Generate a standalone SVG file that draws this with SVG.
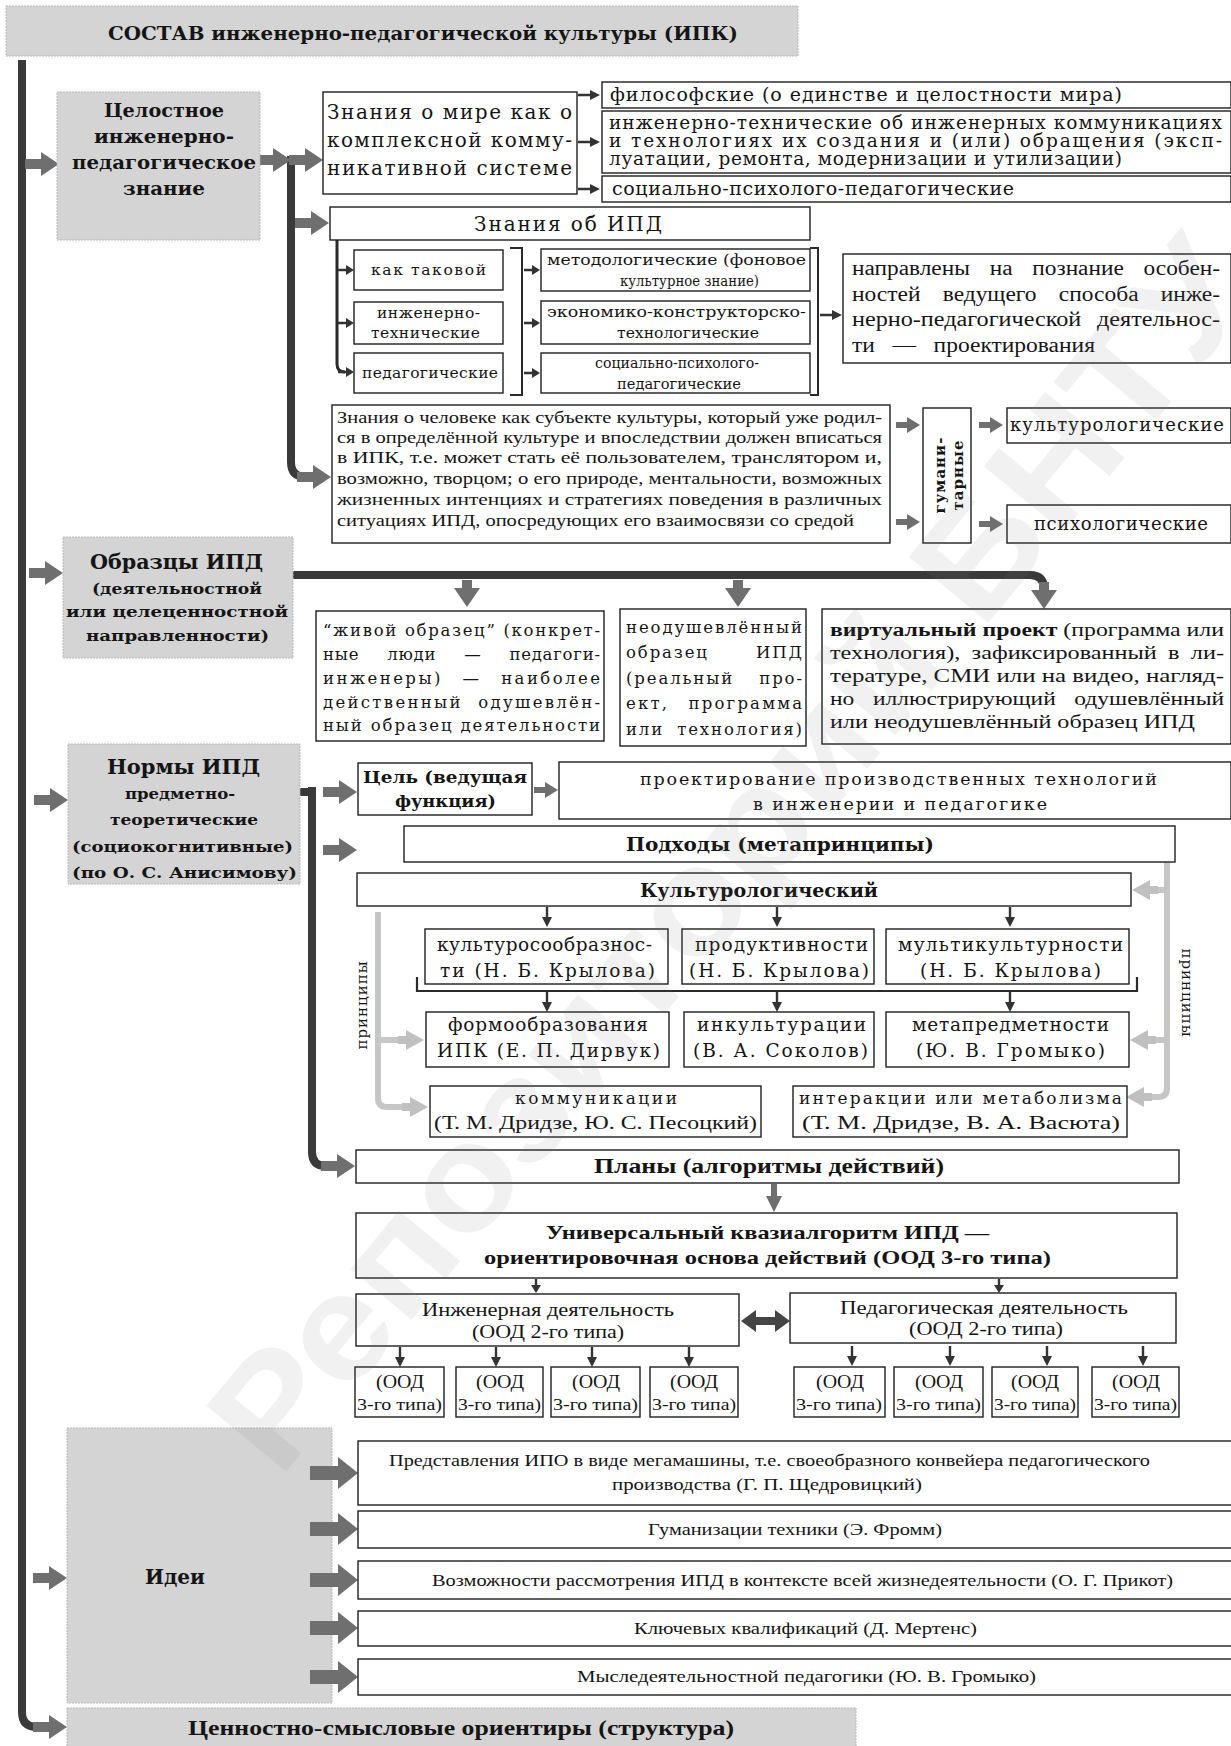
<svg xmlns="http://www.w3.org/2000/svg" width="1231" height="1746" viewBox="0 0 1231 1746">
<style>
.bx{fill:#fff;stroke:#1e1e1e;stroke-width:1.4}
.gb{fill:#d4d4d4;stroke:#b8b8b8;stroke-width:1;stroke-dasharray:2 1}
.b{font-family:"DejaVu Serif",serif;font-weight:bold;fill:#151515}
.r{font-family:"DejaVu Serif",serif;fill:#151515}
.t{font-family:"Liberation Serif",serif;fill:#151515}
.tb{font-family:"Liberation Serif",serif;font-weight:bold;fill:#151515}
.bar{fill:none;stroke:#3a3a3a;stroke-width:8}
.ln{fill:none;stroke:#2a2a2a}
.gl{fill:none;stroke:#c6c6c6;stroke-width:6}
.ga{fill:#6f6f6f}
.da{fill:#333}
.la{fill:#c0c0c0}
</style>
<defs>
<path id="ga" d="M0,-5H16V-12L34,0L16,12V5H0Z"/>
<path id="gab" d="M0,-7H28V-16L48,0L28,16V7H0Z"/>
<path id="gam" d="M0,-3H11V-8L24,0L11,8V3H0Z"/>
<path id="gad" d="M-5,0V8H-13L0,27L13,8H5V0Z"/>
<path id="gmd" d="M-3,0H3V12H8L0,28L-8,12H-3Z"/>
<path id="sa" d="M0,-1.2H12V-5L22,0L12,5V1.2H0Z"/>
<path id="sa16" d="M0,-1.2H8V-5L16,0L8,5V1.2H0Z"/>
<path id="sd" d="M-1.2,0H1.2V10H5L0,20L-5,10H-1.2Z"/>
<path id="sd14" d="M-1.2,0H1.2V6H5L0,14L-5,6H-1.2Z"/>
<path id="la" d="M0,-4H8V-10L26,0L8,10V4H0Z"/>
</defs>

<g id="connectors">
<path class="bar" d="M22,60V1712Q22,1727 37,1727H40"/>
<use class="ga" href="#ga" x="33" y="1727"/>
<use class="ga" href="#ga" x="25" y="164"/>
<use class="ga" href="#ga" x="29" y="573"/>
<use class="ga" href="#ga" x="34" y="800"/>
<use class="ga" href="#ga" x="33" y="1578"/>
<path class="bar" d="M291,156V462Q291,477 306,477"/>
<use class="ga" href="#ga" x="257" y="160"/>
<use class="ga" href="#ga" x="289" y="160"/>
<use class="ga" href="#ga" x="295" y="223"/>
<use class="ga" href="#ga" x="297" y="477"/>
<use class="da" href="#sa" x="578" y="95"/>
<use class="da" href="#sa" x="578" y="142"/>
<use class="da" href="#sa" x="578" y="189"/>
<path class="ln" stroke-width="3" d="M337,240V364Q337,372 345,372"/>
<use class="da" href="#sa16" x="338" y="270"/>
<use class="da" href="#sa16" x="338" y="323"/>
<use class="da" href="#sa16" x="338" y="372"/>
<path class="ln" stroke-width="2" d="M510,248H522V395H510"/>
<use class="da" href="#sa16" x="524" y="270"/>
<use class="da" href="#sa16" x="524" y="323"/>
<use class="da" href="#sa16" x="524" y="373"/>
<path class="ln" stroke-width="2" d="M810,248H818V395H810"/>
<use class="da" href="#sa" x="820" y="315"/>
<use class="ga" href="#gam" x="896" y="425"/>
<use class="ga" href="#gam" x="896" y="522"/>
<use class="ga" href="#gam" x="979" y="425"/>
<use class="ga" href="#gam" x="979" y="524"/>
<path class="bar" stroke-width="9" d="M293,575H1030Q1044,575 1044,589"/>
<use class="ga" href="#gad" x="467" y="580"/>
<use class="ga" href="#gad" x="738" y="580"/>
<use class="ga" href="#gad" x="1044" y="582"/>
<path class="bar" stroke="#555" d="M300,792H316"/>
<path class="bar" d="M312,787V1152Q312,1166 326,1166"/>
<use class="ga" href="#ga" x="323" y="792"/>
<use class="ga" href="#ga" x="323" y="850"/>
<use class="ga" href="#ga" x="321" y="1166"/>
<use class="ga" href="#gam" x="534" y="790"/>
<use class="da" href="#sd" x="547" y="907"/>
<use class="da" href="#sd" x="777" y="907"/>
<use class="da" href="#sd" x="1010" y="907"/>
<path class="ln" stroke-width="2.2" d="M417,977V991H1137V977"/>
<use class="da" href="#sd" x="547" y="992"/>
<use class="da" href="#sd" x="777" y="992"/>
<use class="da" href="#sd" x="1010" y="992"/>
<path class="gl" d="M378,912V1098Q378,1107 387,1107H402"/>
<use class="la" href="#la" x="402" y="1107"/>
<path class="gl" d="M378,1040H398"/>
<use class="la" href="#la" x="398" y="1040"/>
<path class="gl" d="M1167,862V1088Q1167,1097 1158,1097H1152"/>
<use class="la" href="#la" transform="translate(1152,1097) scale(-1,1)"/>
<path class="gl" d="M1167,890H1158"/>
<use class="la" href="#la" transform="translate(1158,890) scale(-1,1)"/>
<path class="gl" d="M1167,1040H1156"/>
<use class="la" href="#la" transform="translate(1156,1040) scale(-1,1)"/>
<use class="ga" href="#gmd" x="774" y="1184"/>
<use class="da" href="#sd14" x="536" y="1279"/>
<use class="da" href="#sd14" x="999" y="1279"/>
<use class="da" href="#sd" x="400" y="1347"/>
<use class="da" href="#sd" x="496" y="1347"/>
<use class="da" href="#sd" x="592" y="1347"/>
<use class="da" href="#sd" x="689" y="1347"/>
<use class="da" href="#sd" x="852" y="1346"/>
<use class="da" href="#sd" x="950" y="1346"/>
<use class="da" href="#sd" x="1047" y="1346"/>
<use class="da" href="#sd" x="1143" y="1346"/>
<path fill="#444" d="M741,1321L756,1310V1317H775V1310L790,1321L775,1332V1325H756V1332Z"/>
</g>

<g id="n-title"><rect class="gb" x="6" y="6" width="792" height="50"/>
<text class="b" x="108" y="40" font-size="19" textLength="630" lengthAdjust="spacingAndGlyphs">СОСТАВ инженерно-педагогической культуры (ИПК)</text></g>

<g id="n-celostnoe"><rect class="gb" x="57" y="92" width="203" height="148"/>
<text class="b" font-size="18" x="104" y="117" textLength="120" lengthAdjust="spacingAndGlyphs">Целостное</text>
<text class="b" font-size="18" x="94" y="143" textLength="140" lengthAdjust="spacingAndGlyphs">инженерно-</text>
<text class="b" font-size="18" x="72" y="169" textLength="184" lengthAdjust="spacingAndGlyphs">педагогическое</text>
<text class="b" font-size="18" x="123" y="195" textLength="82" lengthAdjust="spacingAndGlyphs">знание</text></g>

<g id="n-mir"><rect class="bx" x="323" y="92" width="254" height="102"/>
<text class="r" font-size="20" x="327" y="119" textLength="245" lengthAdjust="spacing">Знания о мире как о</text>
<text class="r" font-size="20" x="327" y="147" textLength="245" lengthAdjust="spacing">комплексной комму-</text>
<text class="r" font-size="20" x="327" y="175" textLength="245" lengthAdjust="spacing">никативной системе</text></g>

<g id="n-filos"><rect class="bx" x="602" y="82" width="629" height="26"/>
<text class="r" font-size="19" x="610" y="101" textLength="512" lengthAdjust="spacing">философские (о единстве и целостности мира)</text></g>
<g id="n-inzhtech"><rect class="bx" x="602" y="111" width="629" height="62"/>
<text class="r" font-size="18.5" x="609" y="129" textLength="613" lengthAdjust="spacing">инженерно-технические об инженерных коммуникациях</text>
<text class="r" font-size="18.5" x="609" y="147" textLength="613" lengthAdjust="spacing">и технологиях их создания и (или) обращения (эксп-</text>
<text class="r" font-size="18.5" x="609" y="165" textLength="513" lengthAdjust="spacing">луатации, ремонта, модернизации и утилизации)</text></g>
<g id="n-socps1"><rect class="bx" x="602" y="176" width="629" height="26"/>
<text class="r" font-size="19" x="612" y="195" textLength="402" lengthAdjust="spacing">социально-психолого-педагогические</text></g>

<g id="n-ipd"><rect class="bx" x="330" y="207" width="480" height="33"/>
<text class="r" font-size="20" x="474" y="231" textLength="188" lengthAdjust="spacing">Знания об ИПД</text></g>

<g id="n-kaktak"><rect class="bx" x="354" y="250" width="149" height="40"/>
<text class="r" font-size="15.5" x="371" y="275" textLength="115" lengthAdjust="spacing">как таковой</text></g>
<g id="n-inzh2"><rect class="bx" x="354" y="302" width="149" height="42"/>
<text class="r" font-size="15.5" x="377" y="318" textLength="103" lengthAdjust="spacing">инженерно-</text>
<text class="r" font-size="15.5" x="371" y="338" textLength="109" lengthAdjust="spacing">технические</text></g>
<g id="n-ped2"><rect class="bx" x="354" y="353" width="149" height="40"/>
<text class="r" font-size="15.5" x="362" y="378" textLength="136" lengthAdjust="spacing">педагогические</text></g>

<g id="n-metod"><rect class="bx" x="541" y="249" width="269" height="42"/>
<text class="r" font-size="14.5" x="547" y="265" textLength="259" lengthAdjust="spacingAndGlyphs">методологические (фоновое</text>
<text class="r" font-size="14.5" x="620" y="286" textLength="139" lengthAdjust="spacingAndGlyphs">культурное знание)</text></g>
<g id="n-ekon"><rect class="bx" x="541" y="301" width="269" height="43"/>
<text class="r" font-size="14.5" x="547" y="317" textLength="259" lengthAdjust="spacingAndGlyphs">экономико-конструкторско-</text>
<text class="r" font-size="14.5" x="617" y="338" textLength="142" lengthAdjust="spacingAndGlyphs">технологические</text></g>
<g id="n-socps2"><rect class="bx" x="541" y="353" width="269" height="40"/>
<text class="r" font-size="14.5" x="595" y="368" textLength="164" lengthAdjust="spacingAndGlyphs">социально-психолого-</text>
<text class="r" font-size="14.5" x="617" y="389" textLength="124" lengthAdjust="spacingAndGlyphs">педагогические</text></g>

<g id="n-napr"><rect class="bx" x="843" y="254" width="388" height="109"/>
<text class="t" font-size="20" x="852" y="275" word-spacing="12" textLength="368" lengthAdjust="spacingAndGlyphs">направлены на познание особен-</text>
<text class="t" font-size="20" x="852" y="301" word-spacing="14" textLength="368" lengthAdjust="spacingAndGlyphs">ностей ведущего способа инже-</text>
<text class="t" font-size="20" x="852" y="326" word-spacing="8" textLength="368" lengthAdjust="spacingAndGlyphs">нерно-педагогической деятельнос-</text>
<text class="t" font-size="20" x="852" y="352" word-spacing="10" textLength="243" lengthAdjust="spacingAndGlyphs">ти — проектирования</text></g>

<g id="n-chel"><rect class="bx" x="332" y="405" width="558" height="138"/>
<text class="t" font-size="17" x="337" y="423" textLength="545" lengthAdjust="spacingAndGlyphs">Знания о человеке как субъекте культуры, который уже родил-</text>
<text class="t" font-size="17" x="337" y="443" textLength="545" lengthAdjust="spacingAndGlyphs">ся в определённой культуре и впоследствии должен вписаться</text>
<text class="t" font-size="17" x="337" y="463" textLength="545" lengthAdjust="spacingAndGlyphs">в ИПК, т.е. может стать её пользователем, транслятором и,</text>
<text class="t" font-size="17" x="337" y="484" textLength="545" lengthAdjust="spacingAndGlyphs">возможно, творцом; о его природе, ментальности, возможных</text>
<text class="t" font-size="17" x="337" y="505" textLength="545" lengthAdjust="spacingAndGlyphs">жизненных интенциях и стратегиях поведения в различных</text>
<text class="t" font-size="17" x="337" y="526" textLength="517" lengthAdjust="spacingAndGlyphs">ситуациях ИПД, опосредующих его взаимосвязи со средой</text></g>

<g id="n-guman"><rect class="bx" x="923" y="408" width="48" height="135"/>
<text class="b" font-size="15" text-anchor="middle" transform="translate(945,475) rotate(-90)" letter-spacing="1">гумани-</text>
<text class="b" font-size="15" text-anchor="middle" transform="translate(963,475) rotate(-90)" letter-spacing="1">тарные</text></g>
<g id="n-kultur"><rect class="bx" x="1007" y="408" width="224" height="35"/>
<text class="r" font-size="18" x="1010" y="431" textLength="214" lengthAdjust="spacing">культурологические</text></g>
<g id="n-psih"><rect class="bx" x="1007" y="505" width="224" height="38"/>
<text class="r" font-size="18" x="1034" y="530" textLength="174" lengthAdjust="spacing">психологические</text></g>

<g id="n-obrazcy"><rect class="gb" x="63" y="537" width="230" height="121"/>
<text class="b" font-size="20" x="90" y="569" textLength="173" lengthAdjust="spacingAndGlyphs">Образцы ИПД</text>
<text class="b" font-size="15" x="92" y="594" textLength="170" lengthAdjust="spacingAndGlyphs">(деятельностной</text>
<text class="b" font-size="15" x="66" y="617" textLength="222" lengthAdjust="spacingAndGlyphs">или целеценностной</text>
<text class="b" font-size="15" x="86" y="641" textLength="183" lengthAdjust="spacingAndGlyphs">направленности)</text></g>

<g id="n-zhivoy"><rect class="bx" x="316" y="611" width="288" height="130"/>
<text class="r" font-size="16.5" x="323" y="636" textLength="277" lengthAdjust="spacing">“живой образец” (конкрет-</text>
<text class="r" font-size="16.5" x="323" y="660" textLength="277" lengthAdjust="spacing" word-spacing="22">ные люди — педагоги-</text>
<text class="r" font-size="16.5" x="323" y="684" textLength="277" lengthAdjust="spacing" word-spacing="12">инженеры) — наиболее</text>
<text class="r" font-size="16.5" x="323" y="708" textLength="277" lengthAdjust="spacing" word-spacing="8">действенный одушевлён-</text>
<text class="r" font-size="16.5" x="323" y="731" textLength="277" lengthAdjust="spacing">ный образец деятельности</text></g>

<g id="n-neodush"><rect class="bx" x="620" y="609" width="186" height="137"/>
<text class="r" font-size="16.5" x="626" y="633" textLength="176" lengthAdjust="spacing">неодушевлённый</text>
<text class="r" font-size="16.5" x="626" y="658" textLength="176" lengthAdjust="spacing" word-spacing="40">образец ИПД</text>
<text class="r" font-size="16.5" x="626" y="684" textLength="176" lengthAdjust="spacing" word-spacing="18">(реальный про-</text>
<text class="r" font-size="16.5" x="626" y="709" textLength="176" lengthAdjust="spacing" word-spacing="12">ект, программа</text>
<text class="r" font-size="16.5" x="626" y="735" textLength="176" lengthAdjust="spacing" word-spacing="6">или технология)</text></g>

<g id="n-virt"><rect class="bx" x="822" y="609" width="409" height="135"/>
<text class="t" font-size="18.5" x="830" y="636" textLength="394" lengthAdjust="spacingAndGlyphs"><tspan font-weight="bold">виртуальный проект</tspan> (программа или</text>
<text class="t" font-size="18.5" x="830" y="659" textLength="394" lengthAdjust="spacingAndGlyphs" word-spacing="4">технология), зафиксированный в ли-</text>
<text class="t" font-size="18.5" x="830" y="682" textLength="394" lengthAdjust="spacingAndGlyphs">тературе, СМИ или на видео, нагляд-</text>
<text class="t" font-size="18.5" x="830" y="705" textLength="394" lengthAdjust="spacingAndGlyphs" word-spacing="10">но иллюстрирующий одушевлённый</text>
<text class="t" font-size="18.5" x="830" y="728" textLength="365" lengthAdjust="spacingAndGlyphs">или неодушевлённый образец ИПД</text></g>

<g id="n-normy"><rect class="gb" x="68" y="744" width="232" height="140"/>
<text class="b" font-size="20" x="107" y="774" textLength="153" lengthAdjust="spacingAndGlyphs">Нормы ИПД</text>
<text class="b" font-size="15" x="125" y="799" textLength="110" lengthAdjust="spacingAndGlyphs">предметно-</text>
<text class="b" font-size="15" x="110" y="825" textLength="148" lengthAdjust="spacingAndGlyphs">теоретические</text>
<text class="b" font-size="15" x="72" y="852" textLength="221" lengthAdjust="spacingAndGlyphs">(социокогнитивные)</text>
<text class="b" font-size="15" x="72" y="878" textLength="225" lengthAdjust="spacingAndGlyphs">(по О. С. Анисимову)</text></g>

<g id="n-cel"><rect class="bx" x="358" y="763" width="174" height="52"/>
<text class="b" font-size="17" x="363" y="783" textLength="164" lengthAdjust="spacingAndGlyphs">Цель (ведущая</text>
<text class="b" font-size="17" x="395" y="807" textLength="101" lengthAdjust="spacingAndGlyphs">функция)</text></g>
<g id="n-proekt"><rect class="bx" x="559" y="762" width="672" height="57"/>
<text class="r" font-size="17.5" x="640" y="785" textLength="517" lengthAdjust="spacing">проектирование производственных технологий</text>
<text class="r" font-size="17.5" x="753" y="810" textLength="294" lengthAdjust="spacing">в инженерии и педагогике</text></g>
<g id="n-podhody"><rect class="bx" x="404" y="826" width="771" height="36"/>
<text class="b" font-size="19" x="626" y="851" textLength="308" lengthAdjust="spacingAndGlyphs">Подходы (метапринципы)</text></g>
<g id="n-kulturolog"><rect class="bx" x="357" y="873" width="774" height="33"/>
<text class="b" font-size="19" x="640" y="897" textLength="238" lengthAdjust="spacingAndGlyphs">Культурологический</text></g>

<g id="n-p1"><rect class="bx" x="425" y="929" width="243" height="55"/>
<text class="r" font-size="18.5" x="437" y="951" textLength="215" lengthAdjust="spacing">культуросообразнос-</text>
<text class="r" font-size="18.5" x="440" y="977" textLength="215" lengthAdjust="spacing">ти (Н. Б. Крылова)</text></g>
<g id="n-p2"><rect class="bx" x="682" y="929" width="192" height="55"/>
<text class="r" font-size="18.5" x="695" y="951" textLength="173" lengthAdjust="spacing">продуктивности</text>
<text class="r" font-size="18.5" x="689" y="977" textLength="180" lengthAdjust="spacing">(Н. Б. Крылова)</text></g>
<g id="n-p3"><rect class="bx" x="886" y="929" width="243" height="55"/>
<text class="r" font-size="18.5" x="898" y="951" textLength="225" lengthAdjust="spacing">мультикультурности</text>
<text class="r" font-size="18.5" x="920" y="977" textLength="181" lengthAdjust="spacing">(Н. Б. Крылова)</text></g>
<g id="n-p4"><rect class="bx" x="426" y="1012" width="243" height="55"/>
<text class="r" font-size="18.5" x="448" y="1031" textLength="200" lengthAdjust="spacing">формообразования</text>
<text class="r" font-size="18.5" x="437" y="1057" textLength="223" lengthAdjust="spacing">ИПК (Е. П. Дирвук)</text></g>
<g id="n-p5"><rect class="bx" x="684" y="1012" width="190" height="55"/>
<text class="r" font-size="18.5" x="697" y="1031" textLength="169" lengthAdjust="spacing">инкультурации</text>
<text class="r" font-size="18.5" x="693" y="1057" textLength="175" lengthAdjust="spacing">(В. А. Соколов)</text></g>
<g id="n-p6"><rect class="bx" x="886" y="1012" width="243" height="55"/>
<text class="r" font-size="18.5" x="912" y="1031" textLength="197" lengthAdjust="spacing">метапредметности</text>
<text class="r" font-size="18.5" x="916" y="1057" textLength="189" lengthAdjust="spacing">(Ю. В. Громыко)</text></g>
<g id="n-p7"><rect class="bx" x="430" y="1086" width="331" height="51"/>
<text class="r" font-size="17" x="515" y="1104" textLength="162" lengthAdjust="spacing">коммуникации</text>
<text class="t" font-size="19" x="434" y="1129" textLength="323" lengthAdjust="spacingAndGlyphs">(Т. М. Дридзе, Ю. С. Песоцкий)</text></g>
<g id="n-p8"><rect class="bx" x="793" y="1086" width="334" height="51"/>
<text class="r" font-size="17" x="799" y="1104" textLength="323" lengthAdjust="spacing">интеракции или метаболизма</text>
<text class="t" font-size="19" x="802" y="1129" textLength="318" lengthAdjust="spacingAndGlyphs">(Т. М. Дридзе, В. А. Васюта)</text></g>

<g id="n-princ-l"><text class="r" font-size="15" text-anchor="middle" transform="translate(367,1005) rotate(-90)" letter-spacing="1">принципы</text></g>
<g id="n-princ-r"><text class="r" font-size="15" text-anchor="middle" transform="translate(1182,993) rotate(90)" letter-spacing="1">принципы</text></g>

<g id="n-plany"><rect class="bx" x="356" y="1150" width="823" height="33"/>
<text class="tb" font-size="21" x="594" y="1173" textLength="350" lengthAdjust="spacingAndGlyphs">Планы (алгоритмы действий)</text></g>
<g id="n-univ"><rect class="bx" x="356" y="1213" width="821" height="65"/>
<text class="tb" font-size="19" x="546" y="1239" textLength="443" lengthAdjust="spacingAndGlyphs">Универсальный квазиалгоритм ИПД —</text>
<text class="tb" font-size="19" x="484" y="1264" textLength="567" lengthAdjust="spacingAndGlyphs">ориентировочная основа действий (ООД 3-го типа)</text></g>
<g id="n-inzhd"><rect class="bx" x="356" y="1294" width="383" height="52"/>
<text class="t" font-size="18" x="422" y="1316" textLength="252" lengthAdjust="spacingAndGlyphs">Инженерная деятельность</text>
<text class="t" font-size="18" x="472" y="1338" textLength="152" lengthAdjust="spacingAndGlyphs">(ООД 2-го типа)</text></g>
<g id="n-pedd"><rect class="bx" x="790" y="1293" width="386" height="50"/>
<text class="t" font-size="18" x="840" y="1314" textLength="288" lengthAdjust="spacingAndGlyphs">Педагогическая деятельность</text>
<text class="t" font-size="18" x="909" y="1335" textLength="154" lengthAdjust="spacingAndGlyphs">(ООД 2-го типа)</text></g>

<g id="n-ood1"><rect class="bx" x="355" y="1367" width="89" height="50"/><text class="t" font-size="18.5" x="376" y="1388" textLength="48" lengthAdjust="spacingAndGlyphs">(ООД</text><text class="t" font-size="16" x="357" y="1410" textLength="85" lengthAdjust="spacingAndGlyphs">3-го типа)</text></g>
<g id="n-ood2"><rect class="bx" x="456" y="1367" width="87" height="50"/><text class="t" font-size="18.5" x="476" y="1388" textLength="48" lengthAdjust="spacingAndGlyphs">(ООД</text><text class="t" font-size="16" x="458" y="1410" textLength="83" lengthAdjust="spacingAndGlyphs">3-го типа)</text></g>
<g id="n-ood3"><rect class="bx" x="551" y="1367" width="89" height="50"/><text class="t" font-size="18.5" x="572" y="1388" textLength="48" lengthAdjust="spacingAndGlyphs">(ООД</text><text class="t" font-size="16" x="553" y="1410" textLength="85" lengthAdjust="spacingAndGlyphs">3-го типа)</text></g>
<g id="n-ood4"><rect class="bx" x="650" y="1367" width="88" height="50"/><text class="t" font-size="18.5" x="670" y="1388" textLength="48" lengthAdjust="spacingAndGlyphs">(ООД</text><text class="t" font-size="16" x="652" y="1410" textLength="84" lengthAdjust="spacingAndGlyphs">3-го типа)</text></g>
<g id="n-ood5"><rect class="bx" x="794" y="1367" width="91" height="50"/><text class="t" font-size="18.5" x="816" y="1388" textLength="48" lengthAdjust="spacingAndGlyphs">(ООД</text><text class="t" font-size="16" x="796" y="1410" textLength="86" lengthAdjust="spacingAndGlyphs">3-го типа)</text></g>
<g id="n-ood6"><rect class="bx" x="894" y="1367" width="89" height="50"/><text class="t" font-size="18.5" x="915" y="1388" textLength="48" lengthAdjust="spacingAndGlyphs">(ООД</text><text class="t" font-size="16" x="896" y="1410" textLength="85" lengthAdjust="spacingAndGlyphs">3-го типа)</text></g>
<g id="n-ood7"><rect class="bx" x="992" y="1367" width="86" height="50"/><text class="t" font-size="18.5" x="1011" y="1388" textLength="48" lengthAdjust="spacingAndGlyphs">(ООД</text><text class="t" font-size="16" x="994" y="1410" textLength="82" lengthAdjust="spacingAndGlyphs">3-го типа)</text></g>
<g id="n-ood8"><rect class="bx" x="1092" y="1367" width="87" height="50"/><text class="t" font-size="18.5" x="1112" y="1388" textLength="48" lengthAdjust="spacingAndGlyphs">(ООД</text><text class="t" font-size="16" x="1094" y="1410" textLength="83" lengthAdjust="spacingAndGlyphs">3-го типа)</text></g>

<g id="n-idei"><rect class="gb" x="67" y="1428" width="265" height="275"/>
<text class="b" font-size="20" x="145" y="1584" textLength="60" lengthAdjust="spacingAndGlyphs">Идеи</text></g>
<g id="idea-arrows">
<use class="ga" href="#gab" x="310" y="1473"/>
<use class="ga" href="#gab" x="310" y="1529"/>
<use class="ga" href="#gab" x="310" y="1580"/>
<use class="ga" href="#gab" x="310" y="1628"/>
<use class="ga" href="#gab" x="310" y="1677"/>
</g>
<g id="n-i1"><rect class="bx" x="358" y="1441" width="880" height="64"/>
<text class="t" font-size="17" x="389" y="1466" textLength="761" lengthAdjust="spacingAndGlyphs">Представления ИПО в виде мегамашины, т.е. своеобразного конвейера педагогического</text>
<text class="t" font-size="17" x="612" y="1490" textLength="310" lengthAdjust="spacingAndGlyphs">производства (Г. П. Щедровицкий)</text></g>
<g id="n-i2"><rect class="bx" x="358" y="1511" width="880" height="37"/>
<text class="t" font-size="17" x="648" y="1535" textLength="294" lengthAdjust="spacingAndGlyphs">Гуманизации техники (Э. Фромм)</text></g>
<g id="n-i3"><rect class="bx" x="358" y="1561" width="880" height="38"/>
<text class="t" font-size="17" x="432" y="1586" textLength="741" lengthAdjust="spacingAndGlyphs">Возможности рассмотрения ИПД в контексте всей жизнедеятельности (О. Г. Прикот)</text></g>
<g id="n-i4"><rect class="bx" x="358" y="1611" width="880" height="35"/>
<text class="t" font-size="17" x="634" y="1634" textLength="343" lengthAdjust="spacingAndGlyphs">Ключевых квалификаций (Д. Мертенс)</text></g>
<g id="n-i5"><rect class="bx" x="358" y="1659" width="880" height="36"/>
<text class="t" font-size="17" x="577" y="1682" textLength="459" lengthAdjust="spacingAndGlyphs">Мыследеятельностной  педагогики  (Ю. В. Громыко)</text></g>

<g id="n-cennost"><rect class="gb" x="67" y="1708" width="789" height="40"/>
<text class="tb" font-size="21" x="188" y="1735" textLength="546" lengthAdjust="spacingAndGlyphs">Ценностно-смысловые ориентиры (структура)</text></g>

<text x="0" y="0" transform="translate(279,1480) rotate(-50.4)" font-family="Liberation Sans, sans-serif" font-weight="bold" font-size="150" fill="#777" fill-opacity="0.1" textLength="1540" lengthAdjust="spacingAndGlyphs">Репозиторий БНТУ</text>
</svg>
